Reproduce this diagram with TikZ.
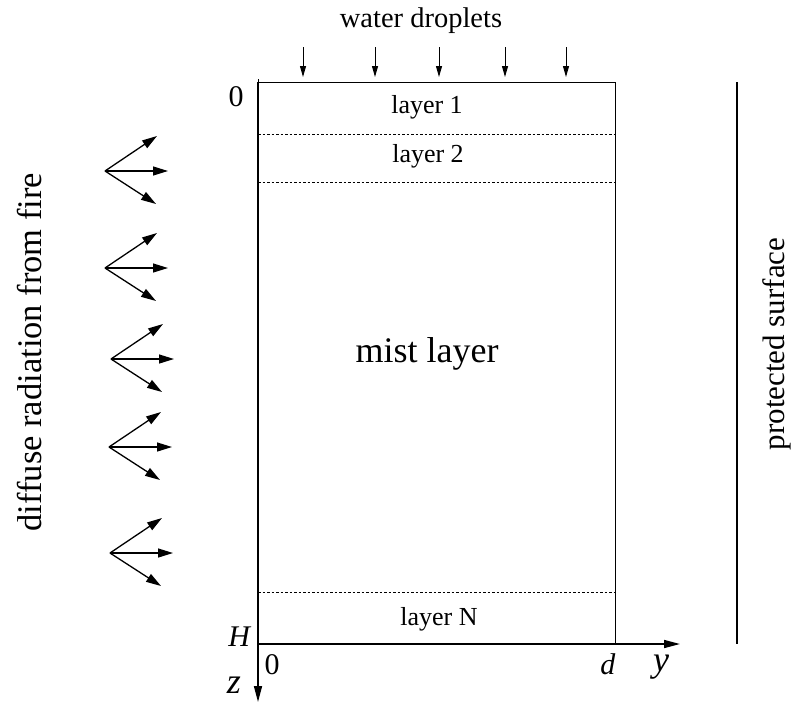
\documentclass[tikz,border=0pt]{standalone}
\usepackage{fontspec}
\setmainfont{Liberation Serif}
\usetikzlibrary{arrows.meta}

\tikzset{
    ray/.style={line width=1.3pt, -{Triangle[length=15pt,width=9pt]}},
    drop/.style={line width=1pt, -{Triangle[length=11pt,width=6pt]}},
    axis/.style={line width=1.6pt, -{Triangle[length=16pt,width=8pt]}},
    layerline/.style={line width=0.8pt, dash pattern=on 2.5pt off 2pt},
    smalltext/.style={font=\fontsize{26}{30}\selectfont},
    bigtext/.style={font=\fontsize{34.5}{40}\selectfont}
}

\begin{document}
\begin{tikzpicture}[x=1pt,y=-1pt]

    \useasboundingbox (0,0) rectangle (797,710);

    % Box corners
    \coordinate (tl) at (258,82);
    \coordinate (tr) at (615,82);
    \coordinate (br) at (615,644);
    \coordinate (bl) at (258,644);

    % Mist layer box
    \draw[line width=1pt] (258,79) -- (tl) -- (tr) -- (br);

    % Layer boundaries
    \draw[layerline] (258,134) -- (615,134);
    \draw[layerline] (258,182) -- (615,182);
    \draw[layerline] (258,592) -- (615,592);

    % Axes
    \draw[axis] (bl) -- (680,644) node (yax) {};
    \draw[axis] (tl) -- (258,702) node (zax) {};

    % Layer labels
    \node[smalltext] (lay1) at (427,107) {layer 1};
    \node[smalltext] (lay2) at (428,156) {layer 2};
    \node[smalltext] (layN) at (439,619) {layer N};
    \node[font=\fontsize{36}{42}\selectfont] (mist) at (427,354) {mist layer};

    % Water droplets
    \node[font=\fontsize{28.5}{34}\selectfont] (water) at (421,21) {water droplets};
    \foreach \dx in {303,375,439,505,566}
        \draw[drop] (\dx,47) -- (\dx,77);

    % Axis labels
    \node[font=\fontsize{30}{36}\selectfont] (ztop) at (236,97) {0};
    \node[font=\fontsize{30}{36}\selectfont] (zbot) at (240,637) {\textit{H}};
    \node[font=\fontsize{30}{36}\selectfont] (yzero) at (272,665) {0};
    \node[font=\fontsize{30}{36}\selectfont] (dlab) at (608,664) {\textit{d}};
    \node[font=\fontsize{36}{42}\selectfont] (ylab) at (661,667) {\textit{y}};
    \node[font=\fontsize{36}{42}\selectfont] (zlab) at (234,685) {\textit{z}};

    % Protected surface
    \draw[line width=1.8pt] (737,82) -- (737,644);
    \node[font=\fontsize{31}{36}\selectfont, rotate=90] (prot) at (777,344) {protected surface};

    % Diffuse radiation
    \node[bigtext, rotate=90] (fire) at (30,352) {diffuse radiation from fire};
    \foreach \ax/\ay in {105/171,105/268,111/359,109/447,110/553} {
        \draw[ray] (\ax,\ay) -- ++(52,-35);
        \draw[ray] (\ax,\ay) -- ++(63,0);
        \draw[ray] (\ax,\ay) -- ++(51,33);
    }

\end{tikzpicture}
\end{document}
